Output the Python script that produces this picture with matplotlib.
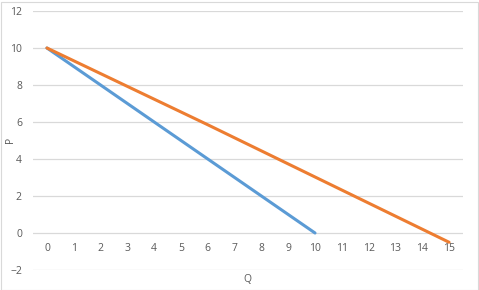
import matplotlib.pyplot as plt
from matplotlib.patches import Rectangle

# 資料
q_blue = [0, 10]
p_blue = [10, 0]
q_orange = [0, 6, 15]
p_orange = [10, 5.85, -0.5]
x_ticks = list(range(0, 16))
y_ticks = [-2, 0, 2, 4, 6, 8, 10, 12]

plt.rcParams['font.family'] = ['Open Sans', 'DejaVu Sans']

fig = plt.figure(figsize=(4.79, 2.90), dpi=100)
ax = fig.add_axes([33 / 479, 1 - 270 / 290, (463 - 33) / 479, (270 - 11) / 290])

ax.plot(q_blue, p_blue, color='#5B9BD5', lw=2.2, solid_capstyle='round')
ax.plot(q_orange, p_orange, color='#ED7D31', lw=2.2, solid_capstyle='round')

ax.set_xlim(-0.52, 15.52)
ax.set_ylim(-2, 12)
ax.set_yticks(y_ticks)
ax.set_xticks(x_ticks)
ax.grid(axis='y', color='#D9D9D9', lw=0.9)
ax.set_axisbelow(True)
for s in ax.spines.values():
    s.set_visible(False)
ax.spines['bottom'].set_position(('data', 0))
ax.tick_params(axis='both', length=0, labelsize=7.5, colors='#595959')
ax.tick_params(axis='x', pad=7)
ax.tick_params(axis='y', pad=8)

fig.text(10 / 479, 1 - 140 / 290, 'P', rotation=90, ha='center', va='center',
         fontsize=7.5, color='#595959')
fig.text(247 / 479, 1 - 280 / 290, 'Q', ha='center', va='center',
         fontsize=7.5, color='#595959')

# 外框
fig.patches.append(Rectangle((0.5 / 479, 0.5 / 290), 477 / 479, 288 / 290,
                             transform=fig.transFigure, fill=False,
                             edgecolor='#D9D9D9', lw=0.8))

fig.savefig('out.png', dpi=100)
